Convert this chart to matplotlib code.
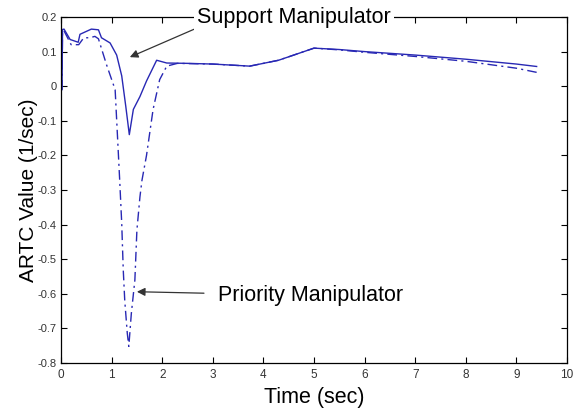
import matplotlib
matplotlib.use("Agg")
import matplotlib.pyplot as plt

# Support manipulator (solid)
sup_t = [0.02, 0.03, 0.06, 0.18, 0.34, 0.375, 0.6, 0.74, 0.8, 0.97, 1.1, 1.2, 1.28, 1.35,
         1.43, 1.56, 1.69, 1.89, 2.09, 2.5, 3.0, 3.73, 4.3, 5.0, 5.5, 6.0, 7.0, 8.0, 9.0, 9.4]
sup_v = [-0.01, 0.164, 0.165, 0.135, 0.127, 0.15, 0.165, 0.163, 0.14, 0.125, 0.09, 0.03, -0.058, -0.14,
         -0.067, -0.03, 0.015, 0.075, 0.067, 0.066, 0.064, 0.058, 0.075, 0.11, 0.106, 0.1, 0.09, 0.078, 0.064, 0.057]

# Priority manipulator (dash-dot)
pri_t = [0.02, 0.03, 0.06, 0.2, 0.35, 0.45, 0.57, 0.67, 0.74, 0.9, 1.07, 1.16, 1.2, 1.23, 1.26, 1.31,
         1.34, 1.39, 1.46, 1.5, 1.56, 1.6, 1.69, 1.82, 1.95, 2.09, 2.3, 3.0, 3.73, 4.3, 5.0, 5.5, 6.0,
         7.0, 8.0, 9.0, 9.4]
pri_v = [-0.01, 0.16, 0.16, 0.12, 0.12, 0.14, 0.14, 0.144, 0.137, 0.062, -0.01, -0.272, -0.396, -0.53,
         -0.62, -0.714, -0.752, -0.657, -0.56, -0.416, -0.32, -0.272, -0.2, -0.067, 0.019, 0.058, 0.066,
         0.064, 0.058, 0.075, 0.11, 0.105, 0.098, 0.086, 0.072, 0.052, 0.04]

x_ticks = [0, 1, 2, 3, 4, 5, 6, 7, 8, 9, 10]
y_ticks = [0.2, 0.1, 0, -0.1, -0.2, -0.3, -0.4, -0.5, -0.6, -0.7, -0.8]
y_tick_labels = ["0.2", "0.1", "0", "-0.1", "-0.2", "-0.3", "-0.4", "-0.5", "-0.6", "-0.7", "-0.8"]

plt.rcParams['font.family'] = ['Liberation Sans', 'DejaVu Sans']

fig = plt.figure(figsize=(5.76, 4.09), dpi=100)
ax = fig.add_axes([61/576, 1 - 363/409, (567 - 61)/576, (363 - 17)/409])

col = '#2828b4'
ax.plot(sup_t, sup_v, color=col, lw=1.0, solid_joinstyle='round')
ax.plot(pri_t, pri_v, color=col, lw=1.0, linestyle=(0, (7, 3, 1.5, 3)))

ax.set_xlim(0, 10)
ax.set_ylim(-0.8, 0.2)
ax.set_xticks(x_ticks)
ax.set_yticks(y_ticks)
ax.set_yticklabels(y_tick_labels)
ax.tick_params(direction='in', top=True, right=True, length=4, width=0.8,
               labelsize=8.5, labelcolor='#333333')
ax.tick_params(axis='x', pad=4)
ax.tick_params(axis='y', pad=3, labelsize=8)
for s in ax.spines.values():
    s.set_linewidth(0.9)

ax.set_xlabel("Time (sec)", fontsize=15.5, labelpad=5)
ax.set_ylabel("ARTC Value (1/sec)", fontsize=15, labelpad=0)

ax.annotate("Support Manipulator", xy=(1.36, 0.084), xytext=(2.69, 0.2),
            fontsize=15.5, ha='left', va='center', annotation_clip=False,
            bbox=dict(boxstyle='square,pad=0.15', fc='white', ec='none'),
            arrowprops=dict(arrowstyle='-|>', color='#333333', lw=0.9,
                            shrinkA=0, shrinkB=0, mutation_scale=12,
                            relpos=(0.03, 0.1)))
ax.annotate("Priority Manipulator", xy=(1.5, -0.594), xytext=(3.1, -0.605),
            fontsize=15.5, ha='left', va='center',
            arrowprops=dict(arrowstyle='-|>', color='#333333', lw=0.9,
                            shrinkA=8, shrinkB=0, mutation_scale=12))

fig.savefig("out.png", dpi=100)
